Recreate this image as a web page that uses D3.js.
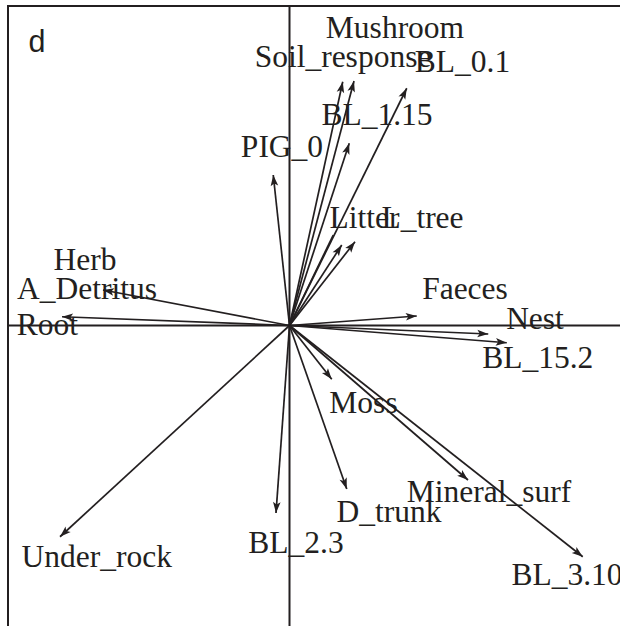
<!DOCTYPE html>
<html>
<head>
<meta charset="utf-8">
<script src="https://cdn.jsdelivr.net/npm/d3@7"></script>
<style>
  html, body { margin: 0; padding: 0; background: #fff; }
  svg { display: block; }
</style>
</head>
<body>
<div id="chart"></div>
<script>
// Variable names
const names = ["Mushroom", "Soil_response", "BL_0.1", "BL_1.15", "PIG_0", "Litter", "L_tree", "Herb",
    "A_Detritus", "Root", "Faeces", "Nest", "BL_15.2", "Moss", "Mineral_surf", "D_trunk", "BL_2.3",
    "Under_rock", "BL_3.10"];

// arrow tips (loadings, axis 1 / axis 2)
const loadX = [0.258, 0.213, 0.469, 0.239, -0.065, 0.175, 0.262, 0.209,
    -0.746, -0.910, 0.509, 0.795, 0.869, 0.169, 0.714, 0.229, -0.054,
    -0.918, 1.173];
const loadY = [0.978, 0.975, 0.949, 0.729, 0.602, 0.362, 0.335, 0.322,
    0.142, 0.035, 0.038, -0.034, -0.069, -0.215, -0.618, -0.654, -0.750,
    -0.845, -0.925];
const hasHead = [true, true, true, true, true, false, true, true,
    true, true, true, true, true, true, true, true, true,
    true, true];

// where the labels sit (same units)
const labelX = [0.422, 0.214, 0.692, 0.350, -0.030, 0.300, 0.532, -0.818,
    -0.810, -0.968, 0.702, 0.982, 0.993, 0.296, 0.798, 0.398, 0.026,
    -0.771, 1.110];
const labelY = [1.150, 1.034, 1.015, 0.802, 0.674, 0.390, 0.390, 0.222,
    0.105, -0.038, 0.105, -0.015, -0.171, -0.351, -0.705, -0.785, -0.911,
    -0.965, -1.038];

const panelLetter = "d";

const width = 620, height = 626;
const ink = "#231f20";

const x = d3.scaleLinear().domain([-1, 1]).range([39.5, 539.5]);
const y = d3.scaleLinear().domain([-1, 1]).range([575.5, 75.5]);

const svg = d3.select("#chart").append("svg")
    .attr("width", width)
    .attr("height", height);

// plot box (runs off the right and bottom edge)
svg.append("rect")
    .attr("x", x(-1.126))
    .attr("y", y(1.278))
    .attr("width", x(1.5) - x(-1.126))
    .attr("height", y(-1.5) - y(1.278))
    .attr("fill", "none")
    .attr("stroke", ink)
    .attr("stroke-width", 2);

// zero lines
svg.append("line")
    .attr("x1", x(0)).attr("x2", x(0))
    .attr("y1", y(1.278)).attr("y2", height)
    .attr("stroke", ink).attr("stroke-width", 2);
svg.append("line")
    .attr("x1", x(-1.126)).attr("x2", width)
    .attr("y1", y(0)).attr("y2", y(0))
    .attr("stroke", ink).attr("stroke-width", 2);

const vectors = names.map((n, i) => ({ name: n, x: loadX[i], y: loadY[i], head: hasHead[i] }));

svg.selectAll(".vec")
    .data(vectors)
    .enter()
    .append("line")
    .attr("class", "vec")
    .attr("x1", x(0))
    .attr("y1", y(0))
    .attr("x2", d => x(d.x))
    .attr("y2", d => y(d.y))
    .attr("stroke", ink)
    .attr("stroke-width", 1.7);

// arrow heads, narrow and filled
svg.selectAll(".head")
    .data(vectors.filter(d => d.head))
    .enter()
    .append("path")
    .attr("class", "head")
    .attr("d", "M0,0 L-11,-3.8 L-8.5,0 L-11,3.8 Z")
    .attr("transform", d => {
        const ang = Math.atan2(y(d.y) - y(0), x(d.x) - x(0)) * 180 / Math.PI;
        return `translate(${x(d.x)},${y(d.y)}) rotate(${ang})`;
    })
    .attr("fill", ink);

svg.selectAll(".lab")
    .data(names)
    .enter()
    .append("text")
    .attr("class", "lab")
    .attr("x", (d, i) => x(labelX[i]))
    .attr("y", (d, i) => y(labelY[i]))
    .attr("text-anchor", "middle")
    .style("font-family", "'Liberation Serif', 'Times New Roman', serif")
    .style("font-size", "31.5px")
    .attr("fill", ink)
    .text(d => d);

svg.append("text")
    .attr("x", 28.5)
    .attr("y", 52)
    .style("font-family", "'Liberation Sans', Arial, sans-serif")
    .style("font-size", "30.5px")
    .attr("fill", ink)
    .text(panelLetter);
</script>
</body>
</html>
